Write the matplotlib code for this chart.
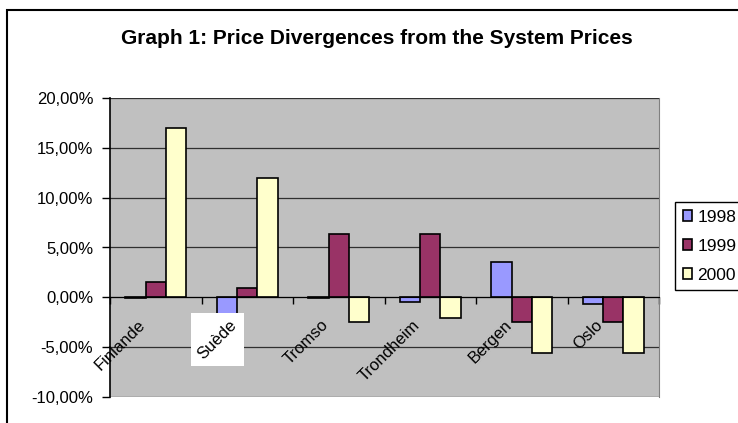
import matplotlib.pyplot as plt
import matplotlib.patches as patches
import numpy as np

plt.rcParams['font.family'] = ['Liberation Sans', 'DejaVu Sans']

# données (en %)
categories = ["Finlande", "Suède", "Tromso", "Trondheim", "Bergen", "Oslo"]
years = ["1998", "1999", "2000"]
v1998 = [-0.1, -2.0, -0.1, -0.5, 3.5, -0.7]
v1999 = [1.5, 0.9, 6.4, 6.4, -2.5, -2.5]
v2000 = [17.0, 12.0, -2.5, -2.1, -5.6, -5.6]
y_ticks = [-10, -5, 0, 5, 10, 15, 20]

colors = ["#9999FF", "#993366", "#FFFFCC"]

fig = plt.figure(figsize=(7.38, 4.23), dpi=100)
ax = fig.add_axes([110 / 738, 1 - 397 / 423, 549 / 738, 299 / 423])
ax.set_facecolor("#C0C0C0")

x = np.arange(len(categories)) + 0.5
w = 1 / 4.5
for i, (vals, c, lab) in enumerate(zip([v1998, v1999, v2000], colors, years)):
    ax.bar(x + (i - 1) * w, vals, width=w, color=c, edgecolor="black",
           linewidth=1.2, label=lab, zorder=3)

ax.set_xlim(0, len(categories))
ax.set_ylim(-10, 20)
ax.set_yticks(y_ticks)
ax.set_yticklabels(["%d,00%%" % t for t in y_ticks], fontsize=12)
ax.yaxis.grid(True, color="#303030", linewidth=0.9, zorder=1)
ax.tick_params(axis="y", direction="out", length=6, width=1, pad=6)

# axe des catégories au niveau de 0
ax.spines["bottom"].set_position(("data", 0))
ax.spines["bottom"].set_zorder(4)
ax.spines["top"].set_visible(False)
ax.spines["right"].set_color("#808080")
ax.spines["left"].set_linewidth(1.2)
ax.set_xticks(np.arange(len(categories) + 1))
ax.set_xticklabels([])
ax.tick_params(axis="x", direction="out", length=5, width=1)

labels = []
for xi, cat in zip(x, categories):
    t = ax.text(xi - 0.08, -2.0, cat, rotation=45, ha="right", va="top",
                fontsize=12, zorder=6)
    labels.append(t)

# fond blanc (non tourné) derrière l'étiquette "Suède"
fig.canvas.draw()
bb = labels[1].get_window_extent().transformed(fig.transFigure.inverted())
pad_x, pad_y = 4 / 738, 4 / 423
fig.patches.append(patches.Rectangle((bb.x0 - pad_x, bb.y0 - pad_y),
                                     bb.width + 2 * pad_x, bb.height + 2 * pad_y,
                                     transform=fig.transFigure,
                                     facecolor="white", edgecolor="none",
                                     zorder=5))
labels[1].set_zorder(7)
labels[1].remove()
fig.texts.append(labels[1])
labels[1].set_transform(ax.transData)
labels[1].set_figure(fig)

fig.suptitle("Graph 1: Price Divergences from the System Prices",
             x=0.51, y=1 - 39 / 423, va="center", fontsize=15,
             fontweight="bold")

fig.legend(loc="upper left", bbox_to_anchor=(675 / 738, 1 - 202 / 423),
           fontsize=12.5, frameon=True, fancybox=False, edgecolor="black",
           framealpha=1, handlelength=0.55, handleheight=0.55,
           handletextpad=0.3, labelspacing=0.8, borderpad=0.45,
           borderaxespad=0)

# cadre extérieur du graphique
fig.patches.append(patches.Rectangle((7 / 738, -0.1), 1.1, 1.1 - 10 / 423,
                                     transform=fig.transFigure, fill=False,
                                     edgecolor="black", linewidth=1.5))

plt.savefig("out.png", dpi=100)
